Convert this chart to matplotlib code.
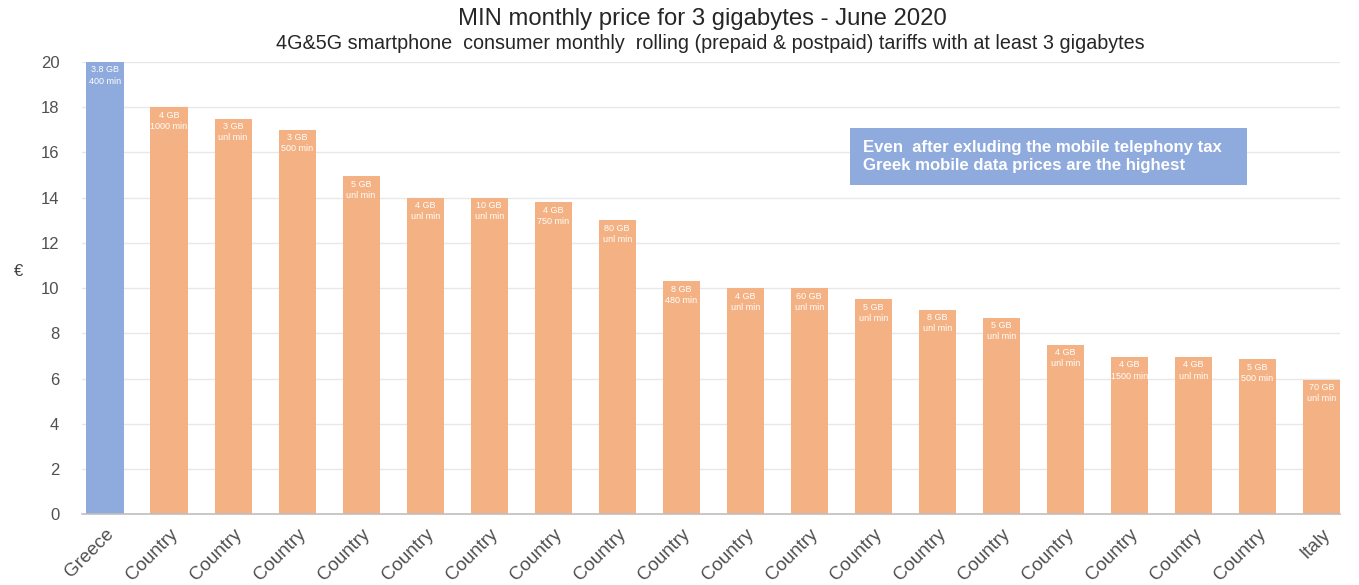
import matplotlib
matplotlib.use('Agg')
import matplotlib.pyplot as plt
from matplotlib.patches import Rectangle

countries = ['Greece'] + ['Country'] * 18 + ['Italy']
prices = [20, 18, 17.5, 17, 14.95, 14, 14, 13.8, 13, 10.3,
          10, 10, 9.5, 9.05, 8.7, 7.5, 6.95, 6.95, 6.85, 5.95]
gigabytes = ['3.8 GB', '4 GB', '3 GB', '3 GB', '5 GB', '4 GB', '10 GB', '4 GB', '80 GB', '8 GB',
             '4 GB', '60 GB', '5 GB', '8 GB', '5 GB', '4 GB', '4 GB', '4 GB', '5 GB', '70 GB']
minutes = ['400 min', '1000 min', 'unl min', '500 min', 'unl min', 'unl min', 'unl min', '750 min',
           'unl min', '480 min', 'unl min', 'unl min', 'unl min', 'unl min', 'unl min', 'unl min',
           '1500 min', 'unl min', '500 min', 'unl min']

BLUE = '#8FAADC'
ORANGE = '#F4B183'

plt.rcParams['font.family'] = ['Liberation Sans', 'DejaVu Sans']

fig = plt.figure(figsize=(13.59, 5.85), dpi=100)
ax = fig.add_axes([0.060, 0.121, 0.926, 0.773])

colors = [BLUE] + [ORANGE] * (len(prices) - 1)
x = range(len(prices))
ax.bar(x, prices, width=0.58, color=colors, zorder=2)

for i, p in enumerate(prices):
    ax.text(i, p - 0.15, gigabytes[i] + '\n' + minutes[i], ha='center', va='top',
            fontsize=6.5, color='white', linespacing=1.3, zorder=3)

ax.set_ylim(0, 20)
ax.set_yticks(range(0, 21, 2))
ax.set_xlim(-0.367, 19.29)
ax.set_xticks(list(x))
ax.set_xticklabels(countries, rotation=45, ha='right', rotation_mode='anchor',
                   fontsize=13.5, color='#505050')
ax.tick_params(axis='y', labelsize=12, colors='#505050', length=0, pad=16)
ax.tick_params(axis='x', length=0, pad=8)
ax.grid(axis='y', color='#e8e8e8', linewidth=1, zorder=0)
for s in ['top', 'right', 'left']:
    ax.spines[s].set_visible(False)
ax.spines['bottom'].set_color('#bfbfbf')
ax.spines['bottom'].set_linewidth(1.2)

ax.set_ylabel('€', rotation=0, fontsize=12, color='#404040')
ax.yaxis.set_label_coords(-0.050, 0.52)

fig.text(0.517, 0.968, 'MIN monthly price for 3 gigabytes - June 2020', ha='center', va='center',
         fontsize=17.2, color='#262626')
fig.text(0.5225, 0.925, '4G&5G smartphone  consumer monthly  rolling (prepaid & postpaid) tariffs with at least 3 gigabytes',
         ha='center', va='center', fontsize=14.2, color='#262626')

fig.patches.append(Rectangle((0.6255, 0.684), 0.292, 0.0974, transform=fig.transFigure,
                             facecolor=BLUE, edgecolor='none'))
fig.text(0.635, 0.733, 'Even  after exluding the mobile telephony tax\nGreek mobile data prices are the highest',
         ha='left', va='center', fontsize=12.1, fontweight='bold', color='white', linespacing=1.25)

plt.savefig('out.png', dpi=100)
